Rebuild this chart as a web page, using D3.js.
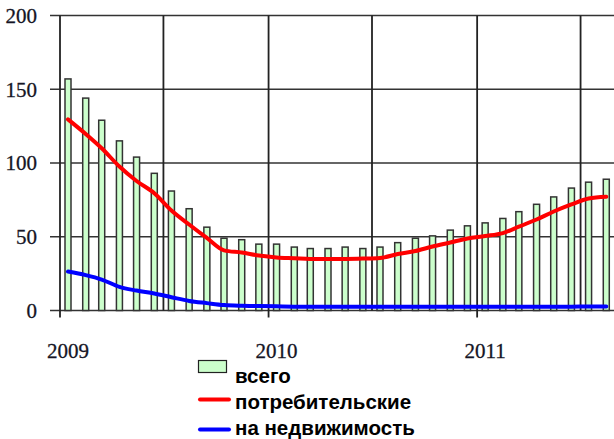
<!DOCTYPE html>
<html><head><meta charset="utf-8">
<script src="https://cdn.jsdelivr.net/npm/d3@7"></script>
<style>body{margin:0;background:#fff}svg{display:block}</style>
</head><body>
<svg id="c" width="614" height="439"></svg>
<script>
const months = ["2009-01","2009-02","2009-03","2009-04","2009-05","2009-06","2009-07","2009-08","2009-09","2009-10","2009-11","2009-12",
"2010-01","2010-02","2010-03","2010-04","2010-05","2010-06","2010-07","2010-08","2010-09","2010-10","2010-11","2010-12",
"2011-01","2011-02","2011-03","2011-04","2011-05","2011-06","2011-07","2011-08"];
const total = [157,144,129,115,104,93,81,69,56.5,49,48,45,45,43,42,42,43,42,43,46,49,50.6,54.5,57.4,59.4,62.4,67,72,77,83,87,89];
const consumer = [129.6,119.7,110,97.6,87.8,79.5,67.8,58.3,49.2,40.8,39.3,37.3,36,35.5,35,35,35,35.2,35.6,38.3,40.3,43.4,46.1,48.8,50.5,52.5,56.8,61.7,67.1,71.9,75.9,77.2];
const mortgage = [26.4,24,21,16,13.5,11.5,9,6.5,5,3.7,3.2,3,2.8,2.6,2.5,2.5,2.5,2.5,2.5,2.5,2.5,2.5,2.5,2.5,2.5,2.5,2.5,2.5,2.6,2.6,2.7,2.7];
const yTicks = [0,50,100,150,200];
const yearLabels = ["2009","2010","2011"];
const halfYears = ["2009-07","2010-07","2011-07"];
const legendLabels = ["всего","потребительские","на недвижимость"];

const svg = d3.select("#c");
const parse = s => { const [y,m] = s.split("-").map(Number); return new Date(Date.UTC(y, m-1, 1)); };
const x = d3.scaleUtc().domain([parse("2009-01"), parse("2011-09")]).range([60, 616]);
const y = d3.scaleLinear().domain([0,200]).range([310.5, 15.5]);
const mid = s => x(d3.utcDay.offset(parse(s), 14));
const serif = "'Liberation Serif', 'Times New Roman', serif";

const grid = svg.append("g");
grid.selectAll("line.h").data(yTicks).join("line")
  .attr("x1", 50).attr("x2", 616)
  .attr("y1", d => y(d)).attr("y2", d => y(d))
  .attr("stroke", "#333").attr("stroke-width", 1.6);
grid.selectAll("line.yr").data(yearLabels).join("line")
  .attr("x1", d => x(parse(d+"-01"))).attr("x2", d => x(parse(d+"-01")))
  .attr("y1", y(200)).attr("y2", y(0) + 7)
  .attr("stroke", "#222").attr("stroke-width", 1.8);
grid.selectAll("line.hy").data(halfYears).join("line")
  .attr("x1", d => x(parse(d))).attr("x2", d => x(parse(d)))
  .attr("y1", y(200)).attr("y2", y(0))
  .attr("stroke", "#222").attr("stroke-width", 1.8);

svg.append("g").selectAll("text").data(yTicks).join("text")
  .attr("x", 37).attr("y", d => y(d)).attr("dy", "0.35em")
  .attr("text-anchor", "end")
  .style("font-family", serif).attr("font-size", 21)
  .attr("fill", "#151525").attr("stroke", "#151525").attr("stroke-width", 0.3).text(d => d);
svg.append("g").selectAll("text").data(yearLabels).join("text")
  .attr("x", d => mid(d+"-01")).attr("y", 358)
  .attr("text-anchor", "middle")
  .style("font-family", serif).attr("font-size", 21)
  .attr("fill", "#151525").attr("stroke", "#151525").attr("stroke-width", 0.3).text(d => d);

const bw = 6;
svg.append("g").selectAll("rect").data(months).join("rect")
  .attr("x", d => mid(d) - bw/2).attr("width", bw)
  .attr("y", (d,i) => y(total[i])).attr("height", (d,i) => y(0) - y(total[i]))
  .attr("fill", "#ccffcc").attr("stroke", "#333").attr("stroke-width", 1.5);

const line = arr => d3.line().x((d,i) => mid(months[i])).y(d => y(d)).curve(d3.curveMonotoneX)(arr);
svg.append("path").attr("d", line(mortgage)).attr("fill","none").attr("stroke","#0000ff").attr("stroke-width",4).attr("stroke-linecap","round");
svg.append("path").attr("d", line(consumer)).attr("fill","none").attr("stroke","#ff0000").attr("stroke-width",4).attr("stroke-linecap","round");

const lg = svg.append("g");
lg.append("rect").attr("x", 198.5).attr("y", 360.5).attr("width", 28).attr("height", 12)
  .attr("fill", "#ccffcc").attr("stroke", "#222").attr("stroke-width", 1.2);
lg.append("line").attr("x1", 200).attr("x2", 229).attr("y1", 399.5).attr("y2", 399.5)
  .attr("stroke", "#ff0000").attr("stroke-width", 4).attr("stroke-linecap","round");
lg.append("line").attr("x1", 200).attr("x2", 229).attr("y1", 429.5).attr("y2", 429.5)
  .attr("stroke", "#0000ff").attr("stroke-width", 4).attr("stroke-linecap","round");
lg.selectAll("text").data(legendLabels).join("text")
  .attr("x", 235).attr("y", (d,i) => 383 + i*26)
  .style("font-family", "'Liberation Sans', Arial, sans-serif").attr("font-weight", "bold")
  .attr("font-size", 20.5).attr("fill", "#000").text(d => d);
</script>
</body></html>
